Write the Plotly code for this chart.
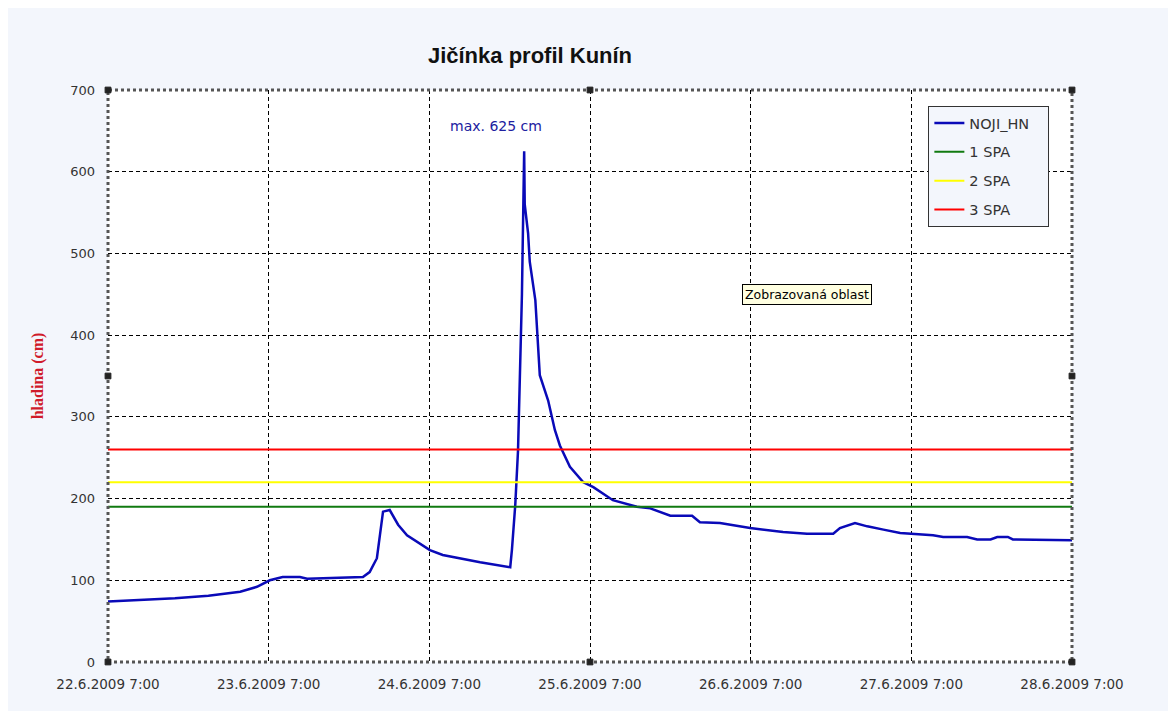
import plotly.graph_objects as go

# ---- data ----
times = [
    "2009-06-22 07:00", "2009-06-22 12:00", "2009-06-22 17:00", "2009-06-22 22:00",
    "2009-06-23 02:45", "2009-06-23 05:15", "2009-06-23 07:10", "2009-06-23 09:05",
    "2009-06-23 11:40", "2009-06-23 12:45", "2009-06-23 17:10", "2009-06-23 21:05",
    "2009-06-23 22:05", "2009-06-23 23:10", "2009-06-24 00:05", "2009-06-24 01:05",
    "2009-06-24 02:20", "2009-06-24 03:40", "2009-06-24 07:05", "2009-06-24 09:00",
    "2009-06-24 14:35", "2009-06-24 19:05", "2009-06-24 19:20", "2009-06-24 19:50",
    "2009-06-24 20:15", "2009-06-24 20:50", "2009-06-24 21:10", "2009-06-24 21:15",
    "2009-06-24 21:45", "2009-06-24 22:00", "2009-06-24 22:50", "2009-06-24 23:30",
    "2009-06-25 00:45", "2009-06-25 01:45", "2009-06-25 02:30", "2009-06-25 04:00",
    "2009-06-25 06:00", "2009-06-25 07:30", "2009-06-25 10:25", "2009-06-25 14:00",
    "2009-06-25 16:00", "2009-06-25 19:00", "2009-06-25 22:15", "2009-06-25 23:25",
    "2009-06-26 02:25", "2009-06-26 06:55", "2009-06-26 11:50", "2009-06-26 15:25",
    "2009-06-26 19:20", "2009-06-26 20:20", "2009-06-26 22:35", "2009-06-27 00:25",
    "2009-06-27 02:50", "2009-06-27 05:20", "2009-06-27 10:15", "2009-06-27 11:45",
    "2009-06-27 15:20", "2009-06-27 16:50", "2009-06-27 18:50", "2009-06-27 19:50",
    "2009-06-27 21:25", "2009-06-27 22:10", "2009-06-28 07:00",
]
noji_hn = [
    74, 76, 78, 81,
    86, 92, 100, 104,
    104, 102, 103, 104,
    110, 127, 184, 186,
    168, 155, 137, 131,
    122, 116, 137, 192,
    259, 450, 625, 560,
    525, 490, 443, 351,
    320, 284, 265, 239,
    220, 214, 198, 190,
    188, 179, 179, 171,
    170, 164, 159, 157,
    157, 164, 170, 166,
    162, 158, 155, 153,
    153, 150, 150, 153,
    153, 150, 149,
]
range_start = "2009-06-22 07:00"
range_end = "2009-06-28 07:00"
series_name = "NOJI_HN"
spa_names = ["1 SPA", "2 SPA", "3 SPA"]
spa_levels = [190, 220, 260]
spa_colors = ["#107A10", "#FFFF00", "#FF0000"]
tick_vals = ["2009-06-22 07:00", "2009-06-23 07:00", "2009-06-24 07:00", "2009-06-25 07:00",
             "2009-06-26 07:00", "2009-06-27 07:00", "2009-06-28 07:00"]
tick_text = ["22.6.2009 7:00", "23.6.2009 7:00", "24.6.2009 7:00", "25.6.2009 7:00",
             "26.6.2009 7:00", "27.6.2009 7:00", "28.6.2009 7:00"]
y_ticks = [0, 100, 200, 300, 400, 500, 600, 700]

BG = "#F3F6FC"
OFF = 8  # page body margin compensation
PAD = "\u00a0" * 3  # legend right padding

fig = go.Figure()
fig.add_trace(go.Scatter(x=times, y=noji_hn, mode="lines", name=series_name + PAD, legendgroup="a",
                         line=dict(color="#0A0AB8", width=2.5)))
for i, (n, lv, c) in enumerate(zip(spa_names, spa_levels, spa_colors)):
    fig.add_trace(go.Scatter(x=[range_start, range_end], y=[lv, lv], mode="lines", name=n,
                             legendgroup="g%d" % i, line=dict(color=c, width=2)))

fig.add_annotation(x="2009-06-24 17:00", y=656, text="max. 625 cm", showarrow=False,
                   font=dict(family="DejaVu Sans", size=14, color="#2020A0"))
fig.add_annotation(x=0.658, y=0.643, xref="paper", yref="paper", xanchor="left", yanchor="middle",
                   text="Zobrazovaná oblast", showarrow=False,
                   font=dict(family="DejaVu Sans", size=12.5, color="#000000"),
                   bgcolor="#FFFFE1", bordercolor="#000000", borderwidth=1, borderpad=2)

# plot-area border
fig.add_shape(type="rect", xref="paper", yref="paper", x0=0, y0=0, x1=1, y1=1,
              line=dict(color="#555555", width=3, dash="dot"), layer="above")
# selection handles
for hx, hy in [(0, 0), (0.5, 0), (1, 0), (0, 0.5), (1, 0.5), (0, 1), (0.5, 1), (1, 1)]:
    fig.add_shape(type="rect", xref="paper", yref="paper",
                  x0=hx - 0.003, x1=hx + 0.003, y0=hy - 0.005, y1=hy + 0.005,
                  line=dict(color="#222222", width=1), fillcolor="#222222", layer="above")

W, H = 1176 - OFF, 711 - OFF
fig.update_layout(
    width=W, height=H,
    paper_bgcolor=BG, plot_bgcolor="#FFFFFF",
    margin=dict(l=108 - OFF, r=104, t=90 - OFF, b=49),
    title=dict(text="<b>Jičínka profil Kunín</b>", x=(530 - OFF) / W, xanchor="center",
               y=1 - (55 - OFF) / H, yanchor="middle",
               font=dict(family="Liberation Sans", size=22, color="#111111")),
    showlegend=True,
    legend=dict(x=0.851, y=0.972, xanchor="left", yanchor="top",
                bgcolor=BG, bordercolor="#333333", borderwidth=1,
                font=dict(family="DejaVu Sans", size=14.5, color="#333333"),
                itemwidth=30, tracegroupgap=7),
    xaxis=dict(type="date", range=[range_start, range_end], tickmode="array",
               tickvals=tick_vals, ticktext=tick_text, showgrid=True,
               gridcolor="#000000", griddash="4px,3px", gridwidth=1,
               showline=False, zeroline=False, ticks="", ticklabelstandoff=12,
               tickfont=dict(family="DejaVu Sans", size=13.5, color="#333333")),
    yaxis=dict(range=[0, 700], tickmode="array", tickvals=y_ticks, showgrid=True,
               gridcolor="#000000", griddash="4px,3px", gridwidth=1,
               showline=False, zeroline=False, ticks="", ticklabelstandoff=12,
               tickfont=dict(family="DejaVu Sans", size=13, color="#333333"),
               title=dict(text="<b>hladina (cm)</b>", standoff=22,
                          font=dict(family="Liberation Serif", size=16, color="#D01B2B"))),
)

fig.write_html("out.html")
